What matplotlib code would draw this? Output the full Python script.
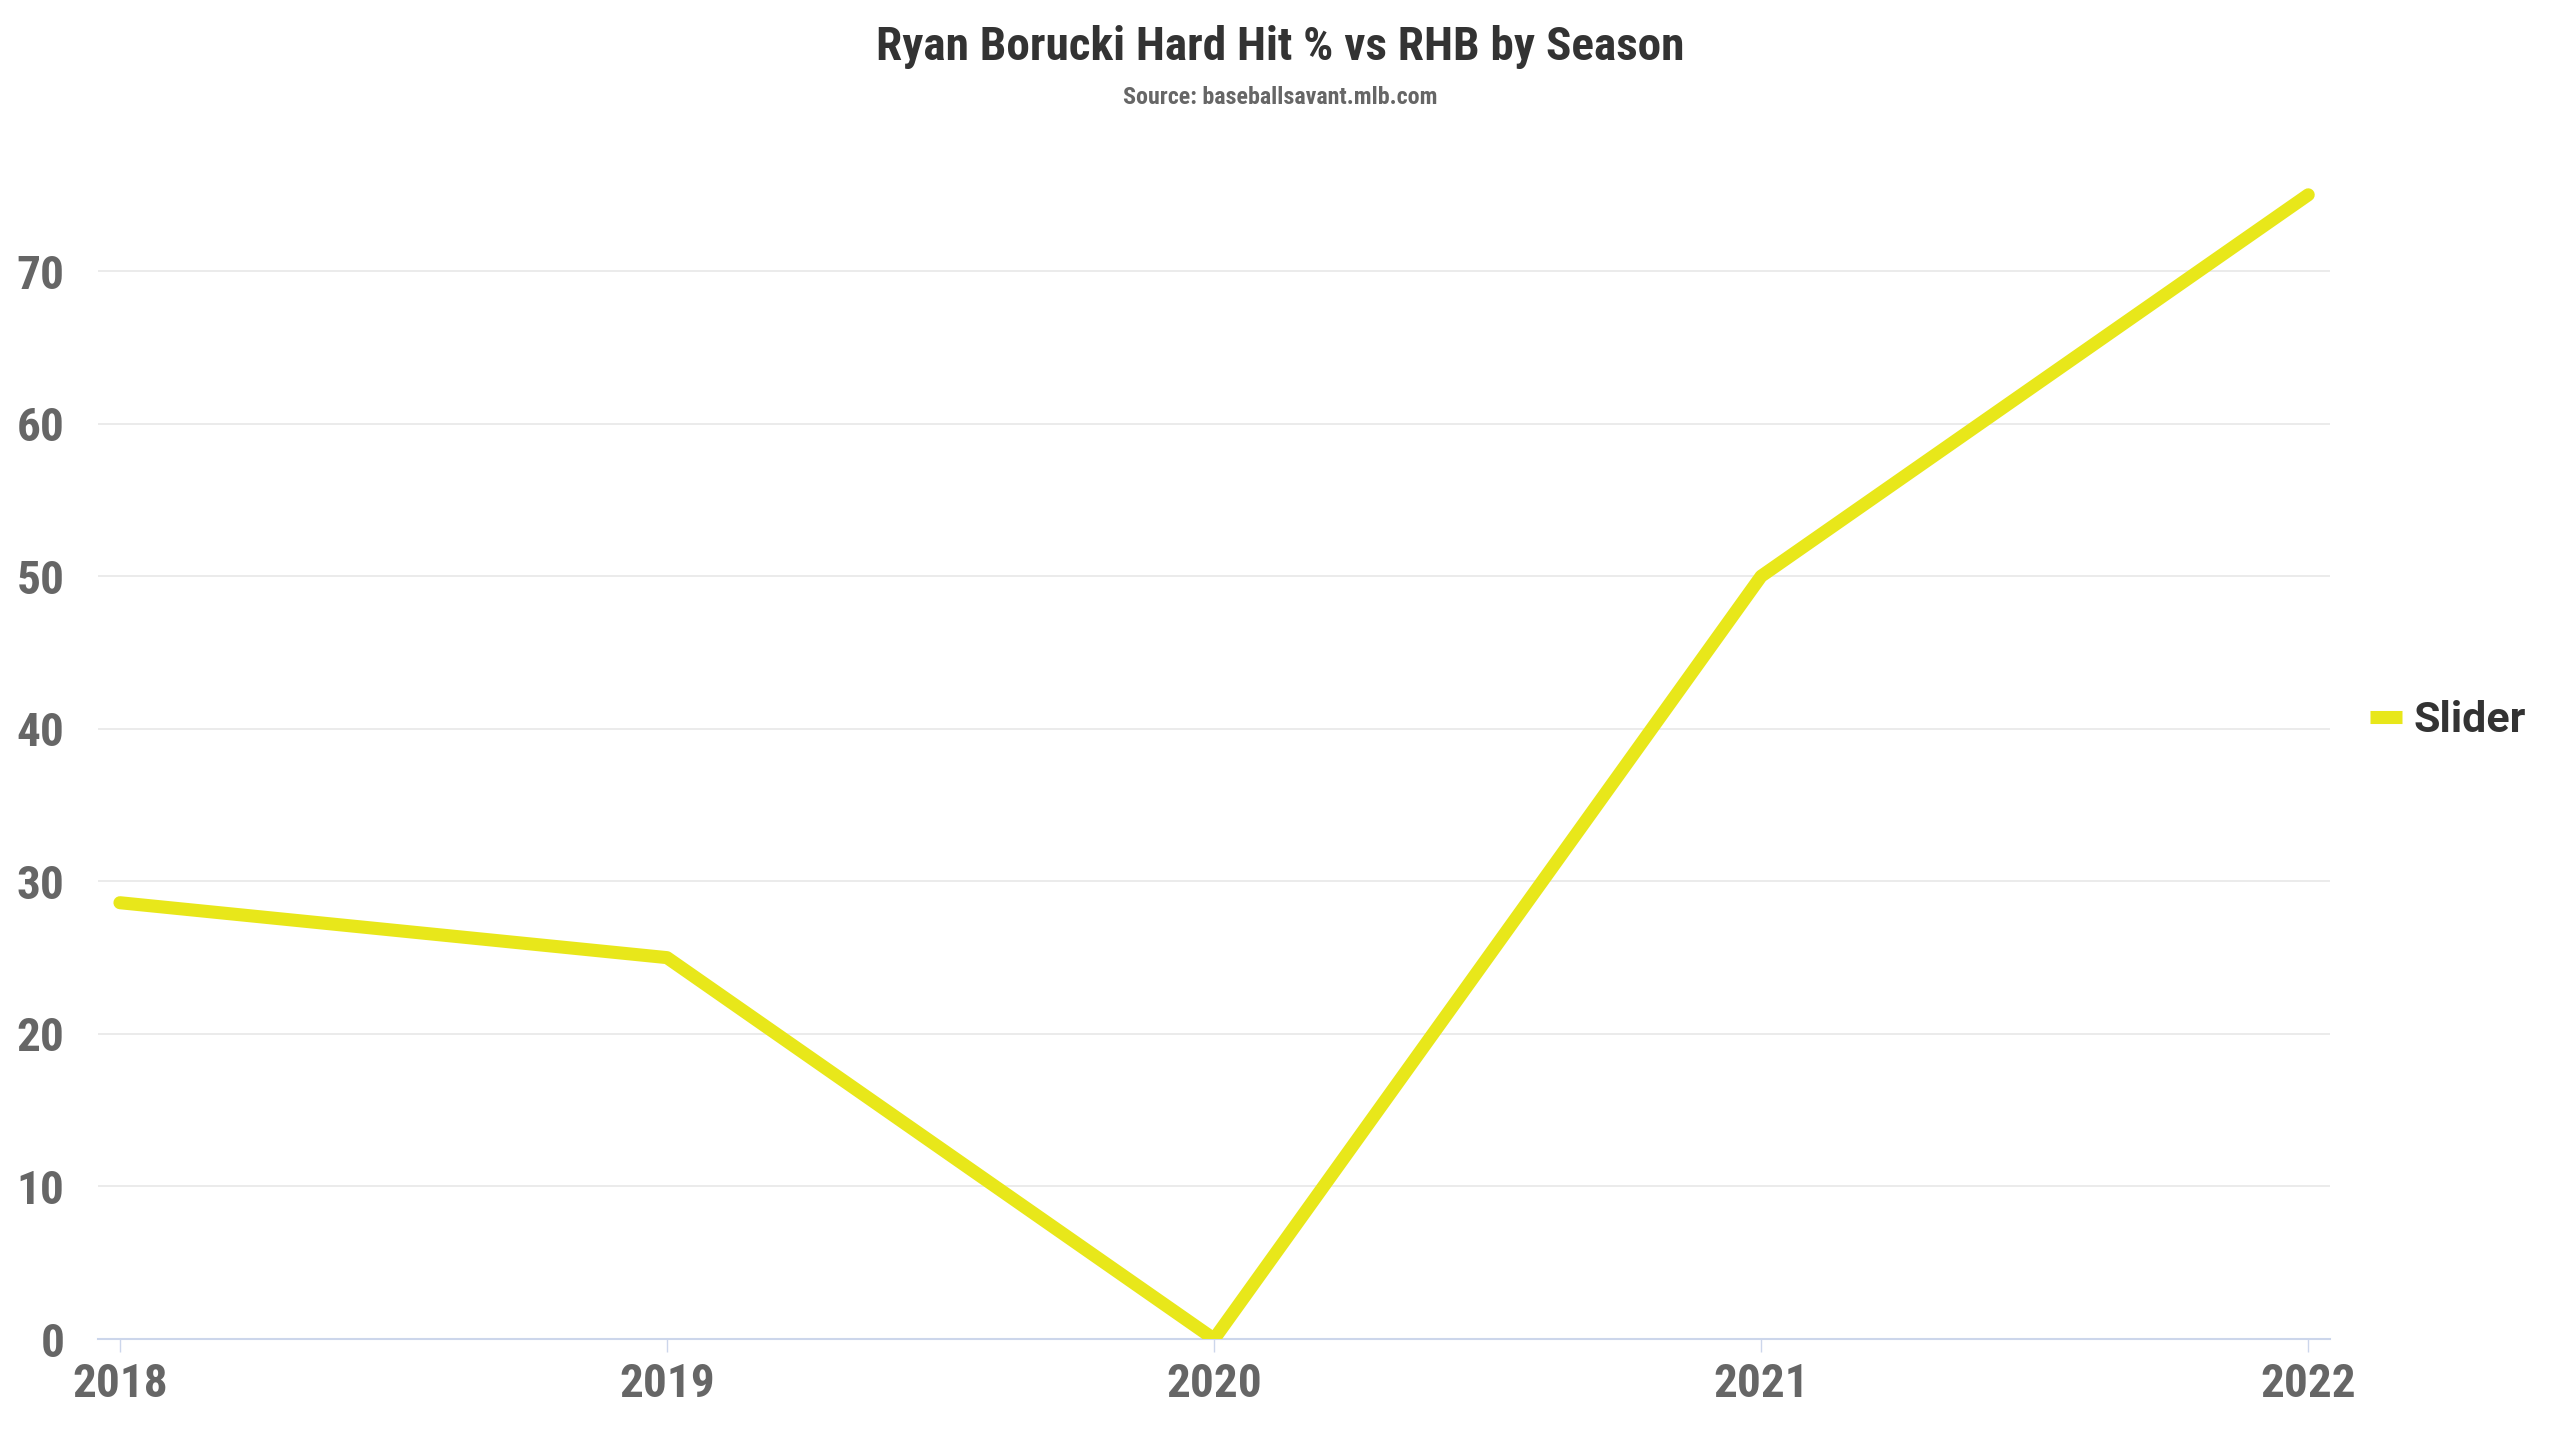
import matplotlib
matplotlib.use("Agg")
import matplotlib.pyplot as plt
from matplotlib.lines import Line2D

# data
seasons = [2018, 2019, 2020, 2021, 2022]
slider_hard_hit = [28.6, 25.0, 0.0, 50.0, 75.0]
y_ticks = [0, 10, 20, 30, 40, 50, 60, 70]
series_name = "Slider"
title = "Ryan Borucki Hard Hit % vs RHB by Season"
subtitle = "Source: baseballsavant.mlb.com"

COND = "Roboto Condensed"
LINE_COLOR = "#e8e71a"

fig = plt.figure(figsize=(25.6, 14.4), dpi=100)
ax = fig.add_axes([0.0383, 0.0701, 0.9102 - 0.0383, 0.8965 - 0.0701])

ax.plot(seasons, slider_hard_hit, color=LINE_COLOR, linewidth=9.4,
        solid_capstyle="round", solid_joinstyle="round", zorder=3)

ax.set_xlim(2017.96, 2022.04)
ax.set_ylim(0, 78)
ax.set_xticks(seasons)
ax.set_yticks(y_ticks)

ax.grid(axis="y", color="#e6e6e6", linewidth=1.1)
ax.set_axisbelow(True)
for side in ["top", "right", "left"]:
    ax.spines[side].set_visible(False)
ax.spines["bottom"].set_color("#ccd6eb")
ax.spines["bottom"].set_linewidth(1.5)

ax.tick_params(axis="x", length=9.5, width=1, color="#ccd6eb", pad=7,
               labelsize=34, labelcolor="#666666")
ax.tick_params(axis="y", length=0, pad=24, labelsize=34, labelcolor="#666666")
for lab in ax.get_xticklabels() + ax.get_yticklabels():
    lab.set_fontfamily(COND)
    lab.set_fontweight("bold")

fig.text(0.5, 1 - 47 / 1440, title, ha="center", va="center",
         fontsize=34, fontfamily=COND, fontweight="bold", color="#333333")
fig.text(0.5, 1 - 97 / 1440, subtitle, ha="center", va="center",
         fontsize=17.3, fontfamily=COND, fontweight="bold", color="#666666")

handle = Line2D([], [], color=LINE_COLOR, linewidth=9.4, solid_capstyle="butt")
fig.legend([handle], [series_name], loc="center left",
           bbox_to_anchor=(2370 / 2560, 1 - 721 / 1440), frameon=False,
           borderpad=0, borderaxespad=0, handlelength=0.75, handletextpad=0.25,
           prop=dict(family="Roboto", weight="bold", size=31), labelcolor="#333333")

fig.savefig("out.png", dpi=100)
